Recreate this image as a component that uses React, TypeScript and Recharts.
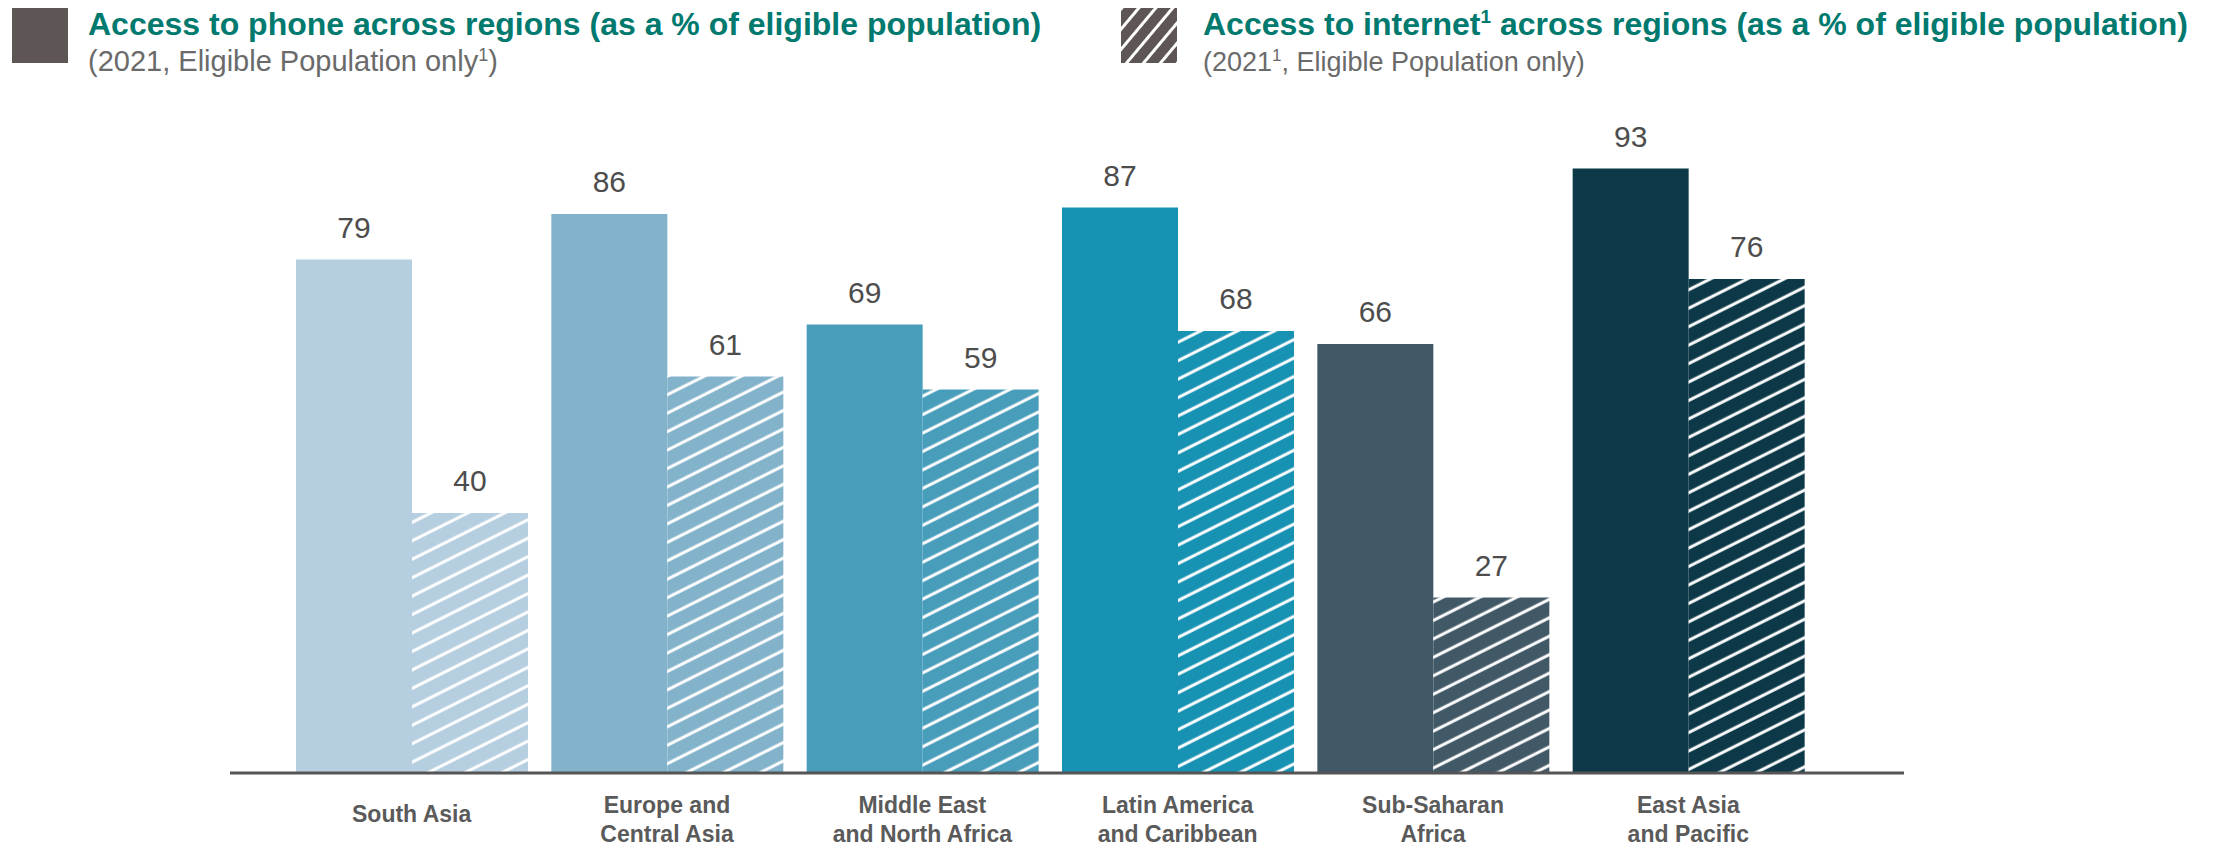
import { Bar, BarChart, Cell, LabelList, XAxis, YAxis } from 'recharts';

const regions = [
  'South Asia',
  'Europe and\nCentral Asia',
  'Middle East\nand North Africa',
  'Latin America\nand Caribbean',
  'Sub-Saharan\nAfrica',
  'East Asia\nand Pacific'
];
const phoneAccess = [79, 86, 69, 87, 66, 93];
const internetAccess = [40, 61, 59, 68, 27, 76];
const regionColors = ['#b5cfe0', '#83b3cb', '#489dbb', '#1792b3', '#415866', '#0c3848'];

const chartData = regions.map((region, i) => ({
  region,
  phone: phoneAccess[i],
  internet: internetAccess[i]
}));

const FONT = "'Liberation Sans', Arial, sans-serif";
const TEAL = '#00796e';

function RegionTick(props: any) {
  const { x, y, payload } = props;
  const lines: string[] = String(payload.value).split('\n');
  const baselines = lines.length === 1 ? [49] : [40, 69];
  return (
    <text
      x={x}
      y={y}
      textAnchor='middle'
      fill='#5a5a5a'
      fontFamily={FONT}
      fontWeight='bold'
      fontSize={23}
    >
      {lines.map((line, i) => (
        <tspan key={line} x={x} y={y + baselines[i]}>
          {line}
        </tspan>
      ))}
    </text>
  );
}

function Legend() {
  return (
    <svg
      width={2216}
      height={100}
      style={{ position: 'absolute', left: 0, top: 0 }}
    >
      <defs>
        <pattern
          id='legend-hatch'
          patternUnits='userSpaceOnUse'
          width={10}
          height={13}
          patternTransform='rotate(-50)'
        >
          <rect width={10} height={13} fill='#5e5555' />
          <line x1={0} y1={6.5} x2={10} y2={6.5} stroke='#fff' strokeWidth={3} />
        </pattern>
      </defs>
      <rect x={12} y={8} width={56} height={55} fill='#5e5555' />
      <text x={88} y={35} fontFamily={FONT} fontWeight='bold' fontSize={32} fill={TEAL}>
        Access to phone across regions (as a % of eligible population)
      </text>
      <text x={88} y={71} fontFamily={FONT} fontSize={29} fill='#6a6a6a'>
        (2021, Eligible Population only
        <tspan fontSize={18} dy={-10}>1</tspan>
        <tspan dy={10}>)</tspan>
      </text>

      <rect x={1121} y={8} width={56} height={55} fill='url(#legend-hatch)' />
      <text x={1203} y={35} fontFamily={FONT} fontWeight='bold' fontSize={32} fill={TEAL}>
        Access to internet
        <tspan fontSize={19} dy={-12}>1</tspan>
        <tspan dy={12}> across regions (as a % of eligible population)</tspan>
      </text>
      <text x={1203} y={71} fontFamily={FONT} fontSize={27} fill='#6a6a6a'>
        (2021
        <tspan fontSize={17} dy={-10}>1</tspan>
        <tspan dy={10}>, Eligible Population only)</tspan>
      </text>
    </svg>
  );
}

export default function App() {
  return (
    <div style={{ position: 'absolute', left: 0, top: 0, width: 2216, height: 846, background: '#fff' }}>
      <BarChart
        width={2216}
        height={846}
        data={chartData}
        margin={{ top: 123, right: 312, bottom: 0, left: 230 }}
        barGap={0}
        barSize={116}
      >
        <defs>
          {regionColors.map((color, i) => (
            <pattern
              key={color}
              id={`hatch-${i}`}
              patternUnits='userSpaceOnUse'
              width={10}
              height={16.5}
              patternTransform='rotate(-26.57)'
            >
              <rect width={10} height={16.5} fill={color} />
              <line x1={0} y1={8} x2={10} y2={8} stroke='#fff' strokeWidth={3} />
            </pattern>
          ))}
        </defs>
        <XAxis
          dataKey='region'
          height={73}
          interval={0}
          tickLine={false}
          tickSize={0}
          tickMargin={0}
          padding={{ left: 54, right: 88 }}
          axisLine={{ stroke: '#555', strokeWidth: 3 }}
          tick={<RegionTick />}
        />
        <YAxis hide domain={[0, 100]} />
        <Bar dataKey='phone' isAnimationActive={false}>
          {regionColors.map(color => (
            <Cell key={color} fill={color} />
          ))}
          <LabelList
            dataKey='phone'
            position='top'
            offset={22}
            fill='#4d4d4d'
            fontSize={30}
            fontFamily={FONT}
          />
        </Bar>
        <Bar dataKey='internet' isAnimationActive={false}>
          {regionColors.map((color, i) => (
            <Cell key={color} fill={`url(#hatch-${i})`} />
          ))}
          <LabelList
            dataKey='internet'
            position='top'
            offset={22}
            fill='#4d4d4d'
            fontSize={30}
            fontFamily={FONT}
          />
        </Bar>
      </BarChart>
      <Legend />
    </div>
  );
}
